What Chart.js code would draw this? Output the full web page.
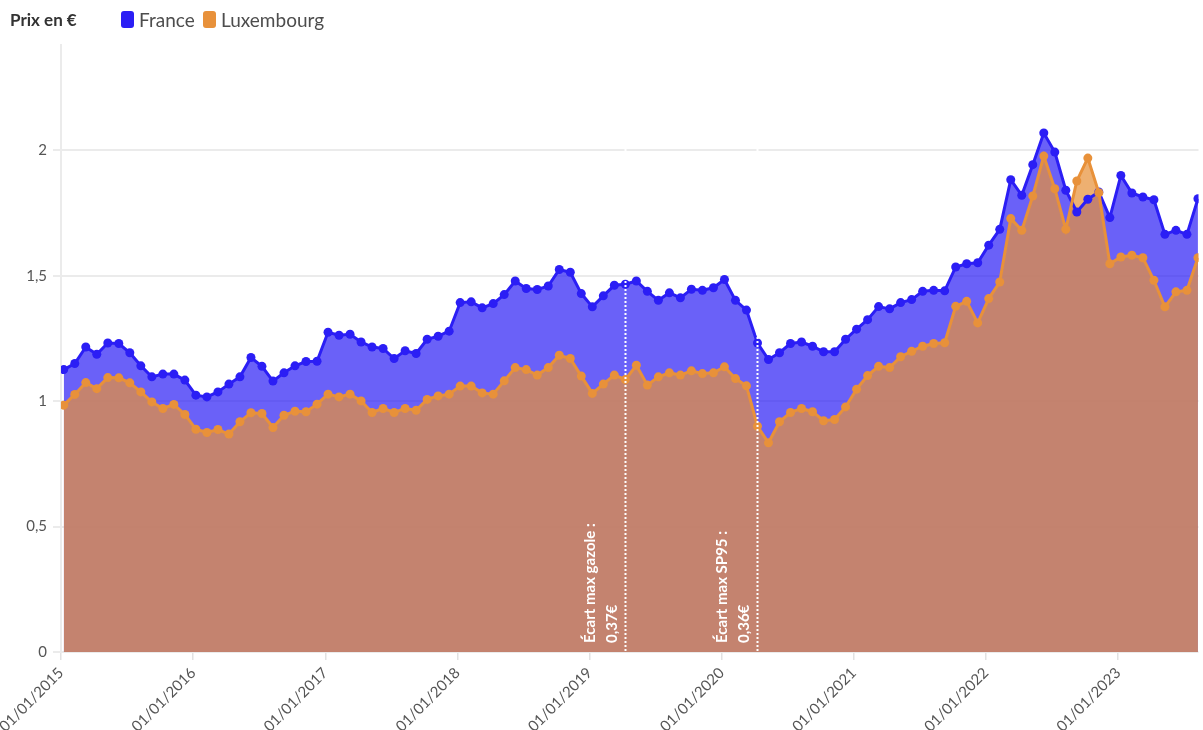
<!DOCTYPE html>
<html>
<head>
<meta charset="utf-8">
<script src="https://cdn.jsdelivr.net/npm/chart.js@4"></script>
<style>
  html, body { margin: 0; padding: 0; background: #ffffff; }
  #wrap { position: relative; width: 1203px; height: 730px; overflow: hidden; }
  #c { position: absolute; left: 0; top: 0; }
  .hd { position: absolute; top: 6px; height: 26px; display: flex; align-items: center; font-family: Lato, "Open Sans", sans-serif; white-space: nowrap; }
  #ttl { left: 10px; font-weight: bold; font-size: 17px; color: #333; }
  .it { font-size: 19px; color: #4d4d4d; }
  .sw { width: 13px; height: 17px; border-radius: 3px; margin-right: 5px; display: inline-block; }
</style>
</head>
<body>
<div id="wrap">
  <canvas id="c" width="1203" height="730"></canvas>
  <div class="hd" id="ttl">Prix en €</div>
  <div class="hd it" style="left:121px"><span class="sw" style="background:#2b1ef5"></span>France</div>
  <div class="hd it" style="left:203px"><span class="sw" style="background:#e8913a"></span>Luxembourg</div>
</div>
<script>
// Months from 01/2015 to 08/2023 (category positions)
const startYear = 2015;
const months = [];
for (let i = 0; i < 104; i++) {
  const y = startYear + Math.floor(i / 12), m = (i % 12) + 1;
  months.push(y + '-' + String(m).padStart(2, '0'));
}

const franceValues = [
  1.126, 1.150, 1.216, 1.187, 1.232, 1.230, 1.193, 1.141, 1.097, 1.108, 1.108, 1.084,
  1.024, 1.017, 1.037, 1.068, 1.097, 1.174, 1.139, 1.080, 1.113, 1.141, 1.158, 1.159,
  1.275, 1.263, 1.267, 1.236, 1.216, 1.210, 1.170, 1.201, 1.190, 1.247, 1.259, 1.279,
  1.393, 1.396, 1.372, 1.389, 1.425, 1.479, 1.449, 1.445, 1.459, 1.525, 1.514, 1.429,
  1.376, 1.420, 1.462, 1.466, 1.479, 1.438, 1.402, 1.432, 1.412, 1.446, 1.442, 1.452,
  1.485, 1.402, 1.363, 1.232, 1.166, 1.193, 1.230, 1.236, 1.219, 1.197, 1.197, 1.247,
  1.287, 1.325, 1.377, 1.368, 1.393, 1.405, 1.438, 1.442, 1.440, 1.535, 1.548, 1.552,
  1.622, 1.685, 1.883, 1.821, 1.943, 2.069, 1.993, 1.841, 1.754, 1.805, 1.834, 1.732,
  1.900, 1.830, 1.814, 1.803, 1.665, 1.681, 1.665, 1.807
];

const luxValues = [
  0.984, 1.027, 1.074, 1.050, 1.094, 1.093, 1.073, 1.037, 0.997, 0.971, 0.987, 0.947,
  0.888, 0.875, 0.887, 0.869, 0.918, 0.954, 0.951, 0.895, 0.944, 0.960, 0.958, 0.988,
  1.028, 1.017, 1.028, 1.001, 0.955, 0.971, 0.955, 0.971, 0.964, 1.007, 1.021, 1.028,
  1.060, 1.060, 1.033, 1.028, 1.081, 1.134, 1.126, 1.104, 1.134, 1.183, 1.170, 1.100,
  1.031, 1.068, 1.104, 1.086, 1.143, 1.064, 1.097, 1.113, 1.104, 1.121, 1.110, 1.113,
  1.137, 1.090, 1.061, 0.900, 0.834, 0.918, 0.955, 0.971, 0.958, 0.922, 0.927, 0.977,
  1.048, 1.102, 1.139, 1.134, 1.177, 1.199, 1.219, 1.230, 1.233, 1.378, 1.398, 1.312,
  1.409, 1.475, 1.728, 1.681, 1.818, 1.977, 1.847, 1.685, 1.878, 1.969, 1.831, 1.548,
  1.575, 1.582, 1.572, 1.482, 1.376, 1.436, 1.442, 1.572
];

const xTickMonths = [0, 12, 24, 36, 48, 60, 72, 84, 96];
const xTickLabels = ['01/01/2015', '01/01/2016', '01/01/2017', '01/01/2018', '01/01/2019',
                     '01/01/2020', '01/01/2021', '01/01/2022', '01/01/2023'];
const yTicks = [0, 0.5, 1, 1.5, 2];

const annotMonths = ['2019-04', '2020-04'];
const annotLine1 = ['Écart max gazole :', 'Écart max SP95 :'];
const annotLine2 = ['0,37€', '0,36€'];

const DAY_OFFSET = 0.25;
const xOf = (label) => months.indexOf(label) + DAY_OFFSET;

const toPts = (vals) => vals.map((v, i) => ({ x: i + DAY_OFFSET, y: v }));

const annotPlugin = {
  id: 'annot',
  afterDatasetsDraw(chart) {
    const { ctx, chartArea } = chart;
    const xs = chart.scales.x;
    ctx.save();
    annotMonths.forEach((m, k) => {
      const px = Math.round(xs.getPixelForValue(xOf(m))) + 0.5;
      ctx.strokeStyle = '#ffffff';
      ctx.lineWidth = 2;
      ctx.setLineDash([2, 2]);
      ctx.beginPath();
      ctx.moveTo(px, chartArea.top);
      ctx.lineTo(px, chartArea.bottom);
      ctx.stroke();
      ctx.setLineDash([]);
      ctx.fillStyle = '#ffffff';
      ctx.font = 'bold 15px Lato, "Open Sans", sans-serif';
      ctx.textAlign = 'left';
      ctx.textBaseline = 'middle';
      [[annotLine1[k], -35.5], [annotLine2[k], -13]].forEach(([t, dx]) => {
        ctx.save();
        ctx.translate(px + dx, chartArea.bottom - 9);
        ctx.rotate(-Math.PI / 2);
        ctx.fillText(t, 0, 0);
        ctx.restore();
      });
    });
    ctx.restore();
  }
};

new Chart(document.getElementById('c'), {
  type: 'line',
  data: {
    datasets: [
      {
        label: 'France',
        data: toPts(franceValues),
        borderColor: '#2b1ef5',
        backgroundColor: 'rgba(43,30,245,0.70)',
        pointBackgroundColor: '#2b1ef5',
        pointBorderColor: '#2b1ef5',
        borderWidth: 3,
        pointRadius: 4.5,
        pointBorderWidth: 0,
        tension: 0,
        fill: 'origin',
        order: 2
      },
      {
        label: 'Luxembourg',
        data: toPts(luxValues),
        borderColor: '#e8913a',
        backgroundColor: 'rgba(232,145,58,0.72)',
        pointBackgroundColor: '#e8913a',
        pointBorderColor: '#e8913a',
        borderWidth: 3,
        pointRadius: 4.5,
        pointBorderWidth: 0,
        tension: 0,
        fill: 'origin',
        order: 1
      }
    ]
  },
  options: {
    responsive: false,
    animation: false,
    devicePixelRatio: 1,
    layout: { padding: { top: 45, right: 1, left: 0, bottom: 0 } },
    plugins: {
      legend: { display: false },
      tooltip: { enabled: false },
      filler: { drawTime: 'beforeDatasetsDraw' }
    },
    scales: {
      x: {
        type: 'linear',
        min: 0,
        max: 103.3,
        afterBuildTicks: (s) => { s.ticks = xTickMonths.map(v => ({ value: v })); },
        afterFit: (s) => { s.height = 78; s.paddingLeft = 0; s.paddingRight = 0; },
        ticks: {
          autoSkip: false,
          minRotation: 45,
          maxRotation: 45,
          padding: 4,
          color: '#555555',
          font: { family: 'Lato, "Open Sans", sans-serif', size: 15 },
          callback: (v) => xTickLabels[xTickMonths.indexOf(v)]
        },
        grid: { drawOnChartArea: false, drawTicks: true, tickLength: 8, color: '#e2e2e2', lineWidth: 1.5 },
        border: { display: false }
      },
      y: {
        min: 0,
        max: 2.42,
        afterBuildTicks: (s) => { s.ticks = yTicks.map(v => ({ value: v })); },
        afterFit: (s) => { s.width = 61; s.paddingTop = 0; s.paddingBottom = 0; },
        ticks: {
          padding: 6,
          color: '#555555',
          font: { family: 'Lato, "Open Sans", sans-serif', size: 15 },
          callback: (v) => String(v).replace('.', ',')
        },
        grid: { color: '#ebebeb', lineWidth: 2, tickLength: 8 },
        border: { display: true, color: '#ebebeb', width: 2 }
      }
    }
  },
  plugins: [annotPlugin]
});
</script>
</body>
</html>
